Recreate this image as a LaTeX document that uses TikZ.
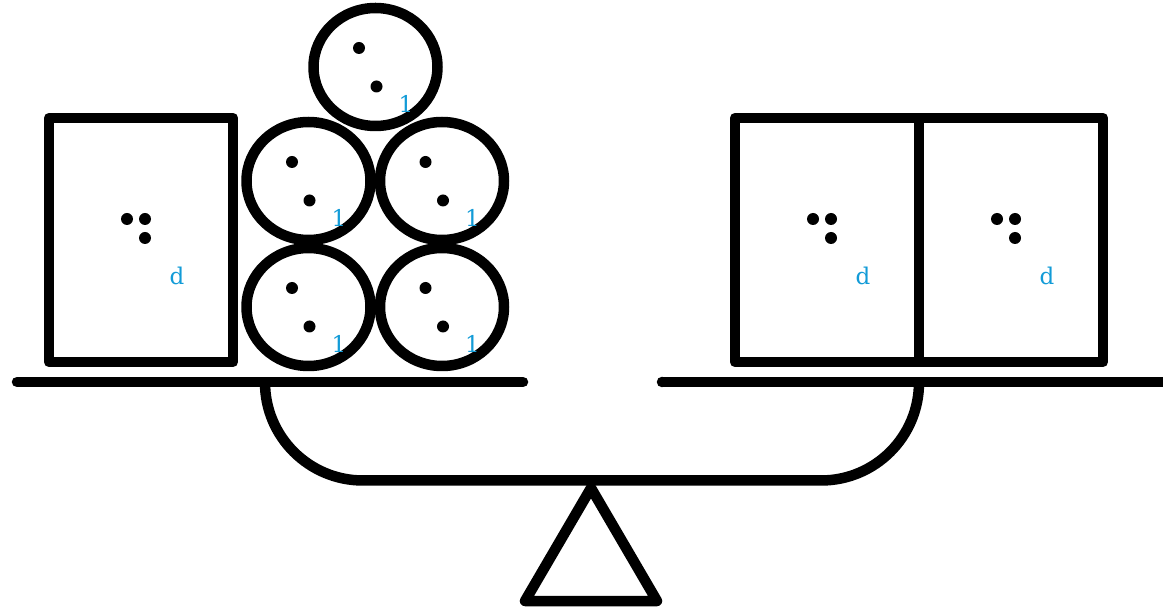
\documentclass[tikz,border=0pt]{standalone}
\usepackage{fontspec}
\setmainfont{DejaVu Serif}
\definecolor{lblblue}{RGB}{18,155,215}
\newcommand\brailleD[2]{%
  \fill (#1-14,#2-21) circle (6pt);
  \fill (#1+4,#2-21) circle (6pt);
  \fill (#1+4,#2-2) circle (6pt);
  \node[lbl] at (#1+36,#2+36) {d};}
\newcommand\brailleOne[2]{%
  \fill (#1-16.5,#2-19) circle (6pt);
  \fill (#1+1,#2+19.5) circle (6pt);
  \node[lbl] at (#1+30.5,#2+36.5) {1};}
\begin{document}
\begin{tikzpicture}[x=1pt,y=-1pt,
  heavy/.style={line width=10.5pt, line join=round, line cap=round},
  lbl/.style={text=lblblue, font=\fontsize{23}{23}\selectfont, inner sep=0pt}]
\useasboundingbox (0,0) rectangle (1163,609);
% pans
\draw[heavy] (17,382) -- (523,382);
\draw[line width=10.5pt, line cap=butt] (662,382) -- (1170,382);
\fill (662,382) circle (5.25pt);
% beam
\draw[heavy, line cap=butt, rounded corners=98pt] (265,382) |- (591,480.5) -| (919,382);
% fulcrum
\draw[heavy] (591,488) -- (657,601) -- (525,601) -- cycle;
% left box
\draw[heavy] (49,118) rectangle (233,362);
\brailleD{141}{240}
% circles
\foreach \cx/\cy in {375.5/67, 308.5/181, 442/181, 308.5/307, 442/307}{
  \draw[heavy] (\cx,\cy) ellipse [x radius=62pt, y radius=59pt];
  \brailleOne{\cx}{\cy}
}
% right boxes
\draw[heavy] (735,118) rectangle (919,362);
\draw[heavy] (919,118) rectangle (1103,362);
\brailleD{827}{240}
\brailleD{1011}{240}
\end{tikzpicture}
\end{document}
